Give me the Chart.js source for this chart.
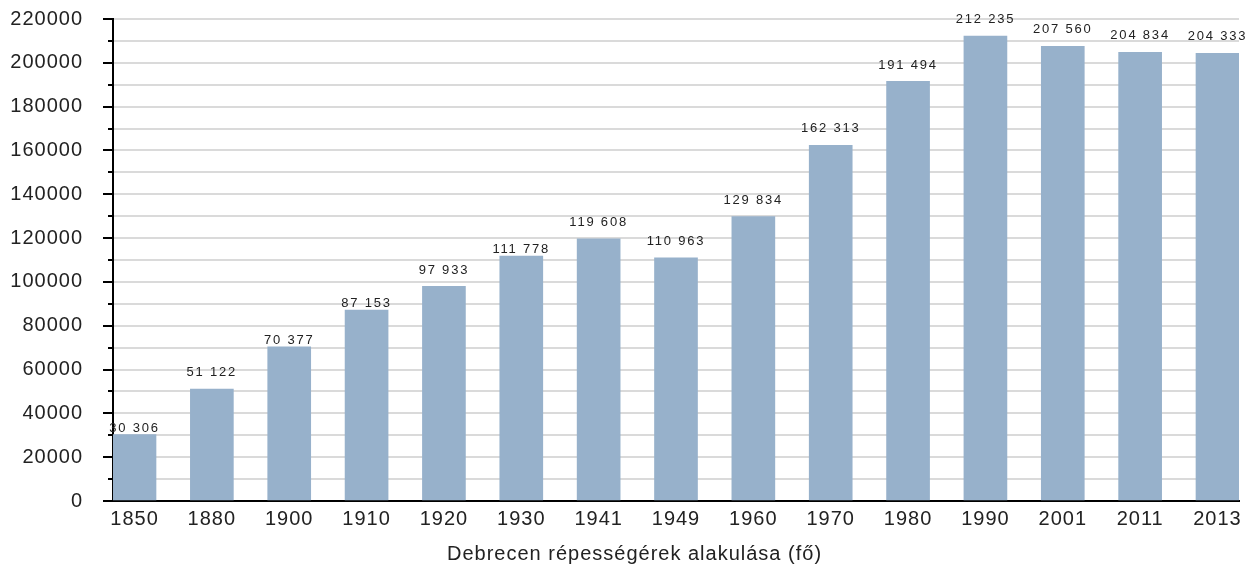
<!DOCTYPE html>
<html>
<head>
<meta charset="utf-8">
<script src="https://cdn.jsdelivr.net/npm/chart.js@4/dist/chart.umd.min.js"></script>
<style>
  html, body { margin: 0; padding: 0; background: #ffffff; }
  #wrap { width: 1260px; height: 572px; }
</style>
</head>
<body>
<div id="wrap"><canvas id="c" width="1260" height="572"></canvas></div>
<script>
// Population of Debrecen by census year
const years = ['1850', '1880', '1900', '1910', '1920', '1930', '1941', '1949', '1960', '1970', '1980', '1990', '2001', '2011', '2013'];
const population = [30306, 51122, 70377, 87153, 97933, 111778, 119608, 110963, 129834, 162313, 191494, 212235, 207560, 204834, 204333];
const valueLabels = ['30 306', '51 122', '70 377', '87 153', '97 933', '111 778', '119 608', '110 963', '129 834', '162 313', '191 494', '212 235', '207 560', '204 834', '204 333'];
const chartTitle = 'Debrecen répességérek alakulása (fő)';

const BAR_W = 43;
const FONT = '"Liberation Sans", Arial, sans-serif';
// labels that sit directly on their bar instead of floating above it
const snugLabels = new Set([0, 2, 3, 5]);

// slightly spaced lettering for all chart text
const spacing = {
  id: 'spacing',
  beforeDraw(chart) {
    try { chart.ctx.letterSpacing = '1px'; } catch (e) {}
  }
};

// short ticks between the labelled ones, plus value labels above the bars
const extras = {
  id: 'extras',
  afterDraw(chart) {
    const ctx = chart.ctx;
    const y = chart.scales.y;
    const left = chart.chartArea.left;
    ctx.save();
    ctx.strokeStyle = '#000';
    ctx.lineWidth = 2;
    for (let v = 10000; v < 220000; v += 20000) {
      const py = Math.round(y.getPixelForValue(v));
      ctx.beginPath();
      ctx.moveTo(left - 5, py);
      ctx.lineTo(left, py);
      ctx.stroke();
    }
    const meta = chart.getDatasetMeta(0);
    ctx.fillStyle = '#222';
    ctx.font = '13px ' + FONT;
    ctx.textAlign = 'center';
    ctx.textBaseline = 'bottom';
    try { ctx.letterSpacing = '1.8px'; } catch (e) {}
    meta.data.forEach((bar, i) => {
      const gap = snugLabels.has(i) ? 0 : 10;
      ctx.fillText(valueLabels[i], bar.x, bar.y - gap);
    });
    ctx.restore();
  }
};

new Chart(document.getElementById('c'), {
  type: 'bar',
  data: {
    datasets: [{
      data: population.map((v, i) => ({ x: i, y: v })),
      backgroundColor: '#97b1cb',
      borderWidth: 0,
      barThickness: BAR_W
    }]
  },
  options: {
    responsive: false,
    animation: false,
    events: [],
    layout: { padding: { left: 9, right: 0, top: 0, bottom: 6 } },
    plugins: {
      legend: { display: false },
      tooltip: { enabled: false },
      title: {
        display: true,
        position: 'bottom',
        text: chartTitle,
        font: { size: 20, family: FONT, weight: 'normal' },
        color: '#222',
        padding: { top: 5, bottom: 0 }
      }
    },
    scales: {
      x: {
        type: 'linear',
        offset: false,
        min: -0.278,
        max: 14.278,
        afterBuildTicks: s => { s.ticks = years.map((_, i) => ({ value: i })); },
        afterFit: s => { s.paddingLeft = 0; s.paddingRight = 21; },
        ticks: {
          callback: v => years[v],
          font: { size: 20, family: FONT },
          color: '#222',
          padding: 6,
          maxRotation: 0,
          autoSkip: false
        },
        grid: { display: false, drawTicks: false },
        border: { display: true, color: '#000', width: 2 }
      },
      y: {
        min: 0,
        max: 220000,
        afterFit: s => { s.width = 104; s.paddingTop = 19; s.paddingBottom = 0; },
        afterBuildTicks: s => {
          const t = [];
          for (let v = 0; v <= 220000; v += 10000) t.push({ value: v });
          s.ticks = t;
        },
        ticks: {
          callback: v => (v % 20000 === 0 ? String(v) : ''),
          autoSkip: false,
          font: { size: 20, family: FONT },
          color: '#222',
          padding: 20
        },
        grid: {
          color: '#dadada',
          lineWidth: 2,
          drawTicks: true,
          tickLength: 10,
          tickWidth: 2,
          tickColor: c => (c.tick && c.tick.value % 20000 === 0 ? '#000' : 'rgba(0,0,0,0)')
        },
        border: { display: true, color: '#000', width: 2 }
      }
    }
  },
  plugins: [spacing, extras]
});
</script>
</body>
</html>
